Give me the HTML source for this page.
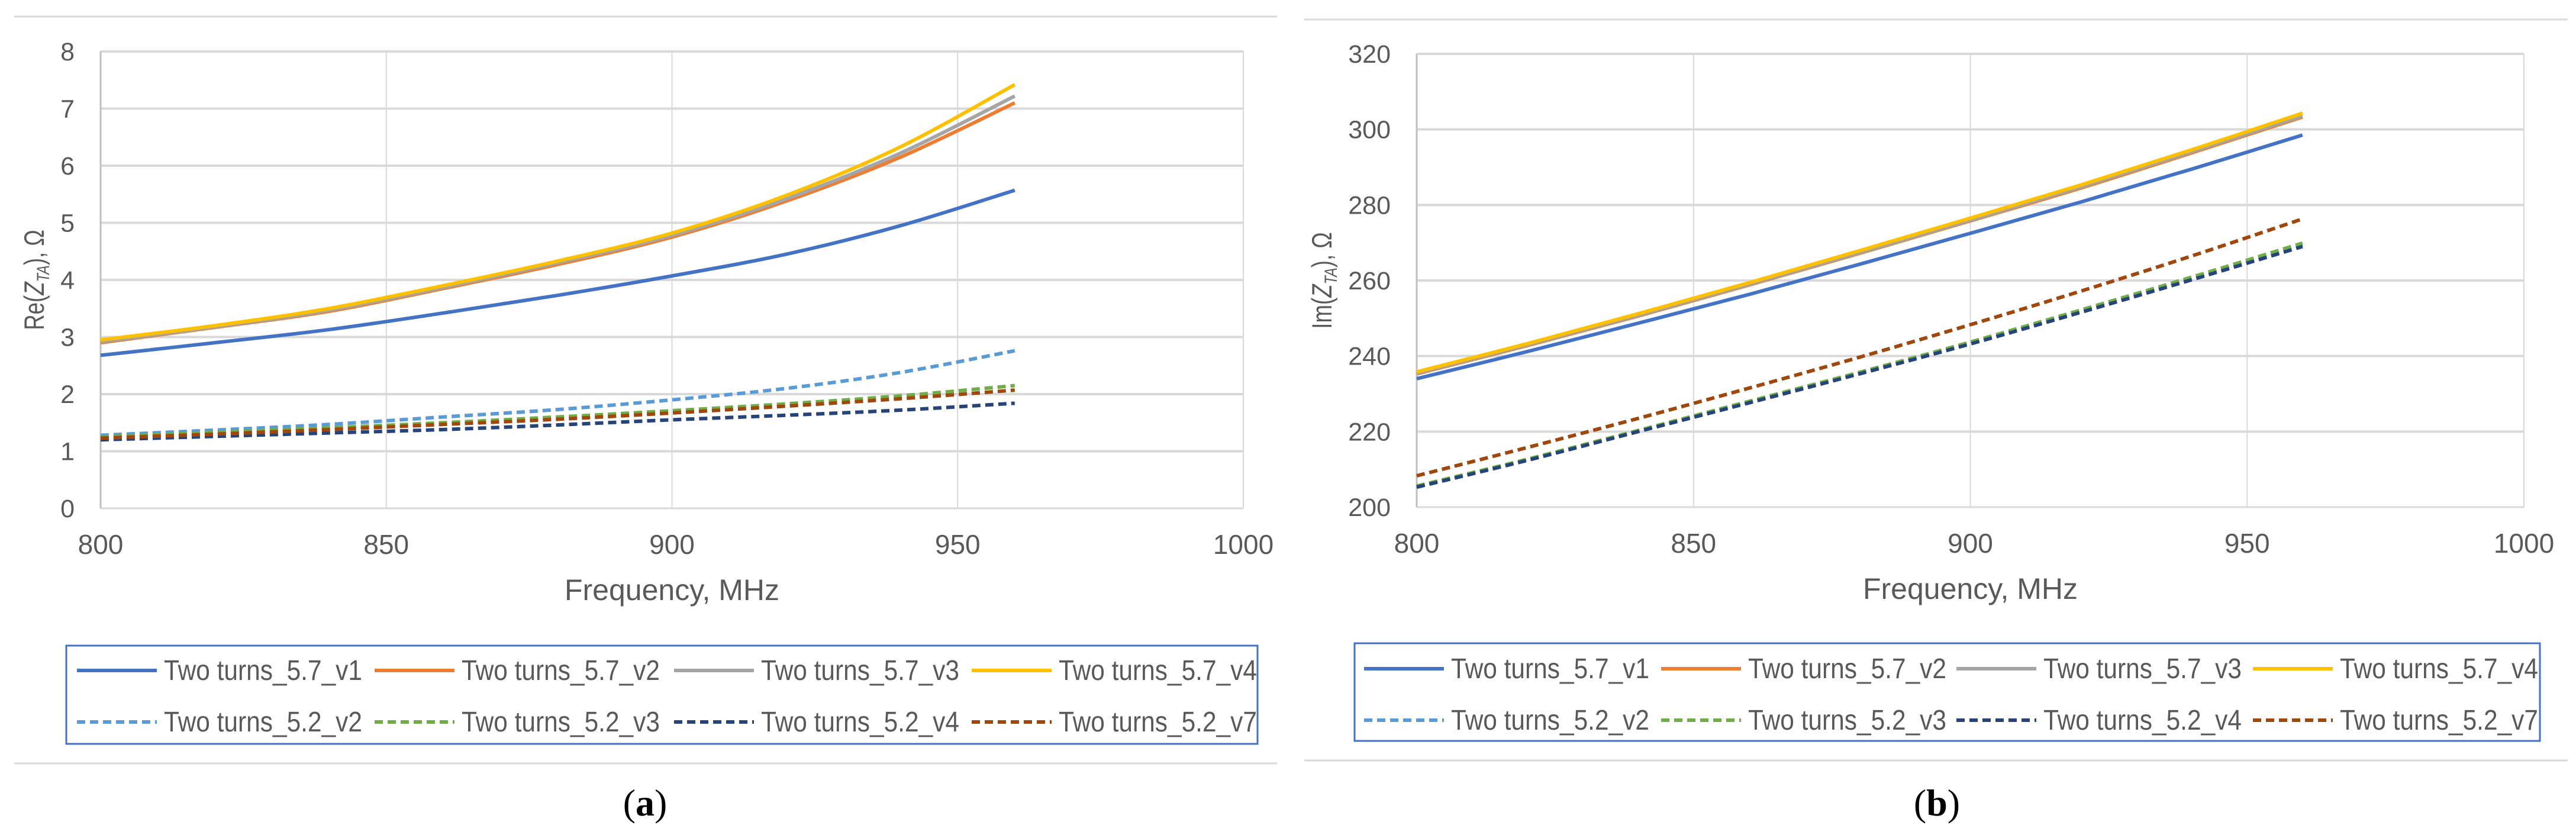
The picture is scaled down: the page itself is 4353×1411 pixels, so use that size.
<!DOCTYPE html>
<html><head><meta charset="utf-8"><style>
html,body{margin:0;padding:0;background:#fff;}
svg{display:block;}
text{font-family:"Liberation Sans Narrow","Liberation Sans",sans-serif;fill:#595959;}
</style></head><body>
<svg id="fig" width="4353" height="1411" viewBox="0 0 4353 1411" xmlns="http://www.w3.org/2000/svg"></svg>
<script>
const freqs = [800,820,840,860,880,900,920,940,960];
const seriesNames = ["Two turns_5.7_v1","Two turns_5.7_v2","Two turns_5.7_v3","Two turns_5.7_v4","Two turns_5.2_v2","Two turns_5.2_v3","Two turns_5.2_v4","Two turns_5.2_v7"];
const reV1 = [2.68,2.9,3.13,3.42,3.73,4.07,4.45,4.95,5.57];
const reV2 = [2.9,3.17,3.45,3.85,4.27,4.75,5.38,6.15,7.1];
const reV3 = [2.92,3.18,3.47,3.87,4.3,4.78,5.42,6.22,7.22];
const reV4 = [2.95,3.2,3.5,3.9,4.33,4.82,5.48,6.33,7.42];
const re52V2 = [1.28,1.37,1.47,1.6,1.73,1.9,2.1,2.38,2.76];
const re52V3 = [1.25,1.33,1.41,1.5,1.6,1.71,1.83,1.97,2.15];
const re52V4 = [1.2,1.26,1.32,1.38,1.46,1.55,1.63,1.72,1.84];
const re52V7 = [1.23,1.3,1.38,1.47,1.56,1.67,1.79,1.92,2.07];
const imV1 = [234,241.2,248.7,256.3,264.3,272.5,280.8,289.5,298.5];
const imV2 = [235.3,242.8,250.6,258.8,267.2,275.8,284.5,293.8,303.3];
const imV3 = [235.5,243.0,250.8,259.0,267.4,276.0,284.8,294.1,303.6];
const imV4 = [235.8,243.3,251.2,259.4,267.9,276.5,285.3,294.6,304.3];
const im52V2 = [205.5,212.6,220.2,227.9,235.6,243.5,252.0,260.6,269.5];
const im52V3 = [205.6,212.7,220.3,228.0,235.7,243.7,252.2,260.9,269.9];
const im52V4 = [205.3,212.4,220.0,227.6,235.3,243.2,251.6,260.2,269.0];
const im52V7 = [208.3,215.8,223.5,231.5,239.7,248.3,257.2,266.5,276.3];
const xTicks = [800,850,900,950,1000];
const reTicks = [0,1,2,3,4,5,6,7,8];
const imTicks = [200,220,240,260,280,300,320];

const colors = ["#4472C4","#ED7D31","#A5A5A5","#FFC000","#5B9BD5","#70AD47","#264478","#9E480E"];
const NS="http://www.w3.org/2000/svg";
const svg=document.getElementById('fig');
function mk(tag,attrs,parent){const e=document.createElementNS(NS,tag);for(const k in attrs)e.setAttribute(k,attrs[k]);(parent||svg).appendChild(e);return e;}
function smooth(pts){let d=`M${pts[0][0]},${pts[0][1]}`;for(let i=0;i<pts.length-1;i++){const p0=pts[Math.max(i-1,0)],p1=pts[i],p2=pts[i+1],p3=pts[Math.min(i+2,pts.length-1)];const c1=[p1[0]+(p2[0]-p0[0])/6,p1[1]+(p2[1]-p0[1])/6],c2=[p2[0]-(p3[0]-p1[0])/6,p2[1]-(p3[1]-p1[1])/6];d+=` C${c1[0]},${c1[1]} ${c2[0]},${c2[1]} ${p2[0]},${p2[1]}`;}return d;}

function panel(o){
  const g=mk('g',{});
  
  
  const X=v=>o.x0+(v-800)/200*(o.x1-o.x0);
  const Y=v=>o.y0-(v-o.ymin)/(o.ymax-o.ymin)*(o.y0-o.y1);
  const sepT=mk('line',{x1:o.sx0,x2:o.sx1,y1:o.sepTop,y2:o.sepTop,stroke:'#d9d9d9','stroke-width':3},g);
  
  const sepB=mk('line',{x1:o.sx0,x2:o.sx1,y1:o.sepBot,y2:o.sepBot,stroke:'#d9d9d9','stroke-width':3},g);
  
  o.yTicks.forEach(t=>{
    const l=mk('line',{x1:o.x0,x2:o.x1,y1:Y(t),y2:Y(t),stroke:'#d9d9d9','stroke-width':t===o.ymin?3:4},g);
    
    const tx=mk('text',{x:o.x0-44,y:Y(t)+15,'text-anchor':'end','font-size':43},g);tx.textContent=t;
    
  });
  xTicks.forEach(t=>{
    const l=mk('line',{x1:X(t),x2:X(t),y1:o.y1,y2:o.y0,stroke:t===800?'#bfbfbf':'#d9d9d9','stroke-width':t===800?3:2},g);
    
    const tx=mk('text',{x:X(t),y:o.y0+77,'text-anchor':'middle','font-size':46},g);tx.textContent=t;
    
  });
  const xt=mk('text',{x:(o.x0+o.x1)/2,y:o.y0+155,'text-anchor':'middle','font-size':50},g);xt.textContent='Frequency, MHz';
  
  const yt=mk('text',{transform:`translate(${o.ytx},${(o.y0+o.y1)/2}) rotate(-90) scale(0.78,1)`,'text-anchor':'middle','font-size':47,style:'font-family:"Liberation Sans",sans-serif'},g);
  yt.innerHTML=o.prefix+'(<tspan font-style="italic">Z</tspan><tspan font-size="30" dy="9" font-style="italic">TA</tspan><tspan dy="-9">), Ω</tspan>';
  
  o.data.forEach((arr,i)=>{
    const pts=arr.map((v,j)=>[X(freqs[j]),Y(v)]);
    const p=mk('path',{d:smooth(pts),fill:'none',stroke:colors[i],'stroke-width':6,'stroke-dasharray':i>=4?'14 8':'none'},g);
    
    
  });
  const lb=mk('rect',{x:o.lx0,y:o.ly0,width:o.lx1-o.lx0,height:o.ly1-o.ly0,fill:'none',stroke:'#4472C4','stroke-width':3},g);
  
  seriesNames.forEach((n,i)=>{
    const ex=o.lx[i%4],ey=i<4?o.lr[0]:o.lr[1];
    const lg=mk('g',{},g);
    
    mk('line',{x1:ex,x2:ex+135,y1:ey,y2:ey,stroke:colors[i],'stroke-width':6,'stroke-dasharray':i>=4?'14 8':'none'},lg);
    const t=mk('text',{x:ex+147,y:ey+16,'font-size':48,textLength:335,lengthAdjust:'spacingAndGlyphs'},lg);t.textContent=n;
  });
  const cap=mk('text',{x:o.cap,y:1378,'text-anchor':'middle','font-size':64,style:'font-family:"Liberation Serif",serif;fill:#000'},g);
  cap.innerHTML='(<tspan font-weight="bold">'+o.letter+'</tspan>)';
  
}
panel({name:'chart-real-part',x0:170,x1:2101,y0:859,y1:87,ymin:0,ymax:8,yTicks:reTicks,ytx:74,prefix:'Re',
  data:[reV1,reV2,reV3,reV4,re52V2,re52V3,re52V4,re52V7],sx0:24,sx1:2158,sepTop:28,sepBot:1290,
  lx0:112,lx1:2125,ly0:1091,ly1:1257,lx:[130,633,1139,1642],lr:[1133,1220],cap:1090,letter:'a'});
panel({name:'chart-imag-part',x0:2394,x1:4265,y0:857,y1:91,ymin:200,ymax:320,yTicks:imTicks,ytx:2250,prefix:'Im',
  data:[imV1,imV2,imV3,imV4,im52V2,im52V3,im52V4,im52V7],sx0:2204,sx1:4339,sepTop:33,sepBot:1285,
  lx0:2289,lx1:4292,ly0:1087,ly1:1252,lx:[2305,2807,3306,3807],lr:[1130,1217],cap:3273,letter:'b'});
</script>
</body></html>
